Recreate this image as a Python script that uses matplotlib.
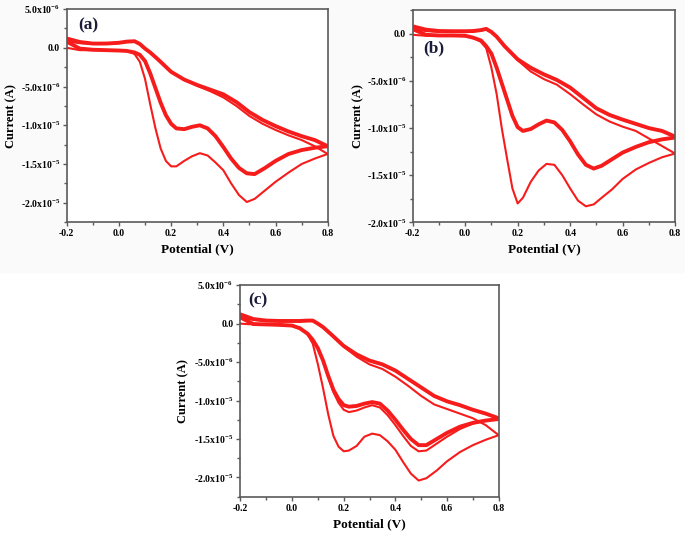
import matplotlib
matplotlib.use("Agg")
import matplotlib.pyplot as plt
from matplotlib.ticker import MultipleLocator, FuncFormatter
import numpy as np

plt.rcParams['font.family'] = ['Liberation Serif', 'DejaVu Serif']
plt.rcParams['font.weight'] = 'bold'
plt.rcParams['mathtext.fontset'] = 'custom'
plt.rcParams['mathtext.rm'] = 'Liberation Serif:bold'
plt.rcParams['mathtext.it'] = 'Liberation Serif:bold'
plt.rcParams['mathtext.bf'] = 'Liberation Serif:bold'
plt.rcParams['mathtext.default'] = 'rm'

# potentials (V) of the sampled points, forward sweep and reverse sweep
fwd_v = [-0.2, -0.15, -0.1, -0.05, 0.0, 0.03, 0.06, 0.08, 0.1, 0.12, 0.14, 0.16,
         0.18, 0.2, 0.22, 0.25, 0.28, 0.31, 0.34, 0.37, 0.4, 0.43, 0.46, 0.49,
         0.52, 0.56, 0.6, 0.65, 0.7, 0.75, 0.8]
rev_v = [0.8, 0.75, 0.7, 0.65, 0.6, 0.55, 0.5, 0.45, 0.4, 0.35, 0.3, 0.25, 0.2,
         0.15, 0.12, 0.1, 0.08, 0.06, 0.03, 0.0, -0.05, -0.1, -0.15, -0.2]

# currents in units of 1e-6 A
# panel (a)
a_first_fwd = [0.0, -0.3, -0.3, -0.3, -0.35, -0.4, -0.8, -1.8, -4.0, -7.3, -10.4, -13.0,
               -14.6, -15.3, -15.3, -14.6, -14.0, -13.6, -13.9, -14.8, -15.8, -17.5, -19.0, -19.9,
               -19.5, -18.4, -17.3, -16.1, -15.0, -14.3, -13.7]
a_first_rev = [-13.7, -12.7, -11.9, -11.3, -10.6, -9.8, -8.8, -7.5, -6.4, -5.6, -4.9, -4.1, -3.1,
               -1.5, -0.6, -0.1, 0.45, 0.8, 0.75, 0.6, 0.5, 0.5, 0.6, 0.8]
a_fwd = [0.8, -0.1, -0.25, -0.3, -0.35, -0.4, -0.6, -0.9, -1.7, -3.3, -5.2, -7.1,
         -8.7, -9.8, -10.4, -10.5, -10.2, -10.0, -10.4, -11.4, -12.8, -14.3, -15.5, -16.2,
         -16.3, -15.5, -14.6, -13.7, -13.2, -12.9, -12.7]
a_rev = [-12.7, -11.9, -11.4, -10.8, -10.1, -9.3, -8.3, -7.0, -6.0, -5.4, -4.8, -4.1, -3.1,
         -1.5, -0.6, -0.1, 0.5, 0.85, 0.8, 0.65, 0.55, 0.55, 0.75, 1.2]

# panel (b)
b_first_fwd = [-0.1, -0.2, -0.2, -0.2, -0.25, -0.4, -0.85, -1.5, -3.6, -6.4, -10.1, -13.3,
               -16.4, -18.0, -17.4, -15.7, -14.5, -13.8, -13.9, -15.0, -16.4, -17.7, -18.3, -18.1,
               -17.4, -16.5, -15.4, -14.4, -13.7, -13.1, -12.7]
b_first_rev = [-12.7, -11.9, -11.1, -10.3, -9.85, -9.3, -8.55, -7.5, -6.4, -5.4, -4.8, -4.0, -2.8,
               -1.3, -0.3, 0.15, 0.45, 0.35, 0.25, 0.2, 0.2, 0.2, 0.3, 0.5]
b_fwd = [0.5, -0.1, -0.17, -0.17, -0.2, -0.4, -0.7, -1.3, -2.1, -3.6, -5.3, -7.0,
         -8.7, -9.9, -10.3, -10.1, -9.6, -9.2, -9.4, -10.2, -11.4, -12.8, -13.9, -14.3,
         -14.0, -13.3, -12.6, -12.0, -11.5, -11.2, -11.0]
b_rev = [-10.9, -10.3, -10.0, -9.55, -9.1, -8.6, -7.9, -6.8, -5.7, -4.9, -4.3, -3.6, -2.7,
         -1.3, -0.3, 0.2, 0.53, 0.4, 0.3, 0.28, 0.28, 0.3, 0.45, 0.8]

# panel (c)
c_first_fwd = [0.0, -0.1, -0.15, -0.2, -0.3, -0.5, -1.4, -2.6, -5.3, -8.4, -11.8, -14.6,
               -16.0, -16.6, -16.5, -15.9, -14.7, -14.3, -14.5, -15.3, -16.4, -18.0, -19.5, -20.4,
               -20.1, -19.1, -17.9, -16.7, -15.8, -15.1, -14.5]
c_first_rev = [-14.5, -13.2, -12.3, -11.7, -11.1, -10.5, -9.4, -8.1, -6.9, -5.9, -5.3, -4.3, -3.0,
               -1.4, -0.5, -0.05, 0.35, 0.35, 0.3, 0.3, 0.3, 0.35, 0.5, 0.8]
c_second_fwd = [0.8, -0.05, -0.1, -0.15, -0.25, -0.6, -1.3, -2.1, -3.2, -4.8, -6.9, -8.9,
                -10.3, -11.2, -11.5, -11.3, -10.9, -10.6, -10.9, -11.9, -13.2, -14.6, -15.9, -16.6,
                -16.5, -15.6, -14.7, -13.7, -13.0, -12.6, -12.4]
c_fwd = [0.8, -0.05, -0.1, -0.15, -0.25, -0.6, -1.3, -2.1, -3.2, -4.8, -6.8, -8.6,
         -9.8, -10.6, -10.8, -10.7, -10.4, -10.2, -10.4, -11.3, -12.5, -13.8, -15.0, -15.8,
         -15.8, -15.0, -14.2, -13.4, -12.9, -12.6, -12.4]
c_rev = [-12.3, -11.7, -11.2, -10.6, -10.1, -9.4, -8.3, -7.2, -6.1, -5.3, -4.8, -4.0, -2.9,
         -1.35, -0.45, 0.0, 0.4, 0.4, 0.35, 0.35, 0.35, 0.4, 0.6, 1.2]

RED = '#f71c1c'
SPINE = '#5a5a5a'


def sci_label(v, pos):
    if abs(v) < 1e-12:
        return "0.0"
    exp = int(np.floor(np.log10(abs(v)) + 1e-9))
    mant = v / 10.0**exp
    return "%.1fx10$^{%d}$" % (mant, exp)


def cvPanel(ax, tag, first, singles, bundle, ylim, tagpos, ylab_x):
    scale = 1e-6
    # first cycle
    ax.plot(fwd_v, np.array(first[0]) * scale, color=RED, lw=1.5, solid_joinstyle='round')
    ax.plot(rev_v, np.array(first[1]) * scale, color=RED, lw=1.5, solid_joinstyle='round')
    for s in singles:
        ax.plot(fwd_v, np.array(s) * scale, color=RED, lw=1.5, solid_joinstyle='round')
    # later cycles sit on top of each other
    ax.plot(fwd_v, np.array(bundle[0]) * scale, color=RED, lw=2.8, solid_joinstyle='round')
    ax.plot(rev_v, np.array(bundle[1]) * scale, color=RED, lw=2.8, solid_joinstyle='round')

    ax.set_xlim(-0.2, 0.8)
    ax.set_ylim(*ylim)
    ax.xaxis.set_major_locator(MultipleLocator(0.2))
    ax.xaxis.set_minor_locator(MultipleLocator(0.1))
    ax.yaxis.set_major_locator(MultipleLocator(5e-6))
    ax.yaxis.set_minor_locator(MultipleLocator(2.5e-6))
    ax.xaxis.set_major_formatter(FuncFormatter(lambda v, p: "%.1f" % v))
    ax.yaxis.set_major_formatter(FuncFormatter(sci_label))
    ax.tick_params(which='both', direction='out', top=False, right=False,
                   color=SPINE, labelsize=7, pad=2)
    ax.tick_params(which='major', length=3, width=1)
    ax.tick_params(which='minor', length=2, width=1)
    for sp in ax.spines.values():
        sp.set_color(SPINE)
        sp.set_linewidth(1.2)
    ax.set_xlabel('Potential (V)', fontsize=9.5, fontweight='bold')
    ax.set_ylabel('Current (A)', fontsize=9, fontweight='bold')
    ax.yaxis.set_label_coords(ylab_x, 0.5)
    ax.xaxis.set_label_coords(0.5, -0.1)
    ax.text(tagpos[0], tagpos[1], tag, transform=ax.transAxes, fontsize=12.5,
            fontweight='bold', color='#1c1c3a', va='center', ha='left')


fig = plt.figure(figsize=(6.85, 5.34), dpi=100)
fig.patches.append(plt.Rectangle((0, 262 / 534.0), 1, 1, transform=fig.transFigure,
                                 color='#fafafa', zorder=-10))

axA = fig.add_axes([0.0974, 0.584, 0.381, 0.399])
cvPanel(axA, '(a)', (a_first_fwd, a_first_rev), [], (a_fwd, a_rev),
        (-2.25e-5, 5e-6), (0.045, 0.925), -0.19)

axB = fig.add_axes([0.6025, 0.5837, 0.383, 0.397])
cvPanel(axB, '(b)', (b_first_fwd, b_first_rev), [], (b_fwd, b_rev),
        (-2.0e-5, 2.5e-6), (0.04, 0.82), -0.186)

axC = fig.add_axes([0.351, 0.0699, 0.377, 0.396])
cvPanel(axC, '(c)', (c_first_fwd, c_first_rev), [c_second_fwd], (c_fwd, c_rev),
        (-2.25e-5, 5e-6), (0.03, 0.93), -0.2)

for a in (axA, axB, axC):
    a.set_facecolor('white')

fig.savefig('out.png', dpi=100)
